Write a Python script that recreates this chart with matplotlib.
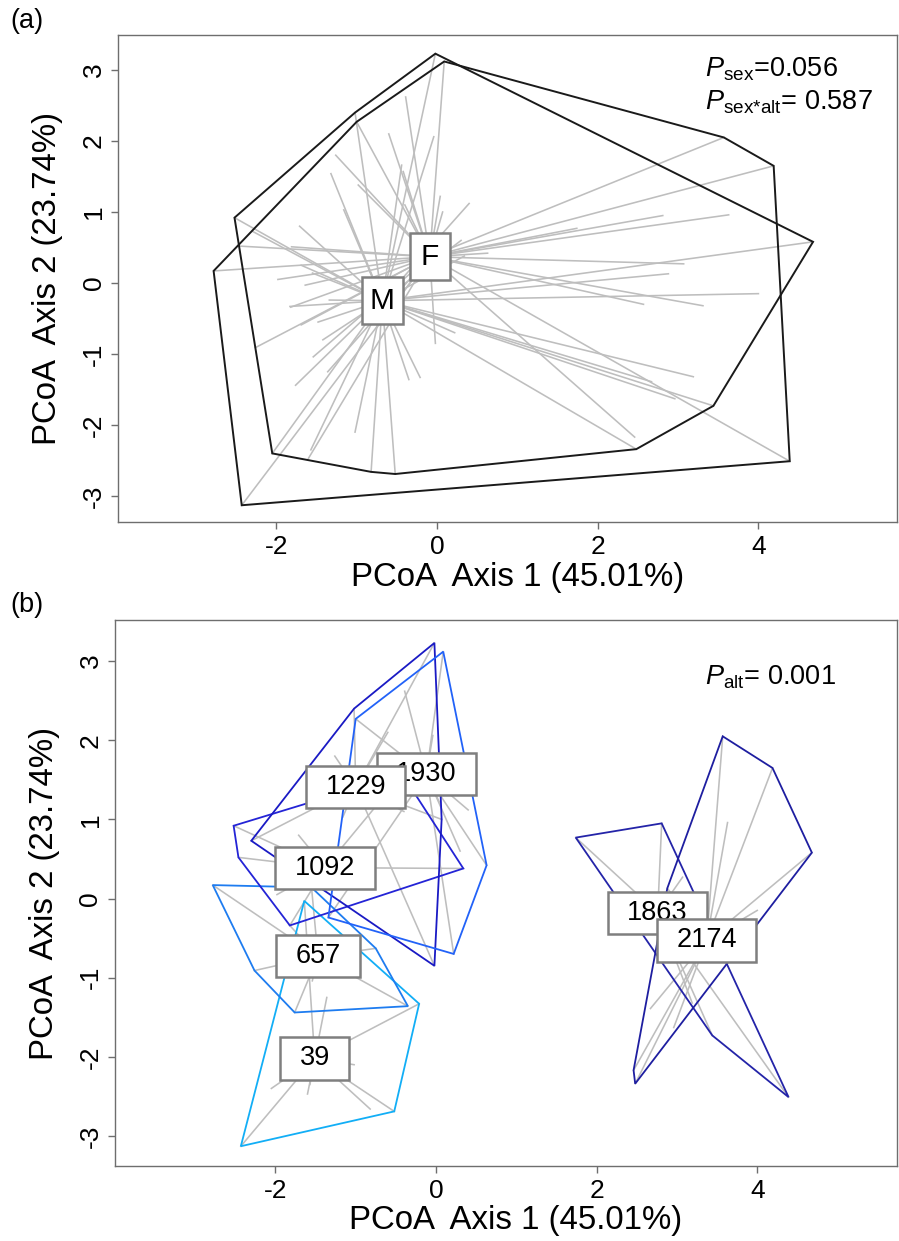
import numpy as np
import matplotlib
matplotlib.use("Agg")
import matplotlib.pyplot as plt
from matplotlib.patches import Polygon
from matplotlib.path import Path

plt.rcParams['font.family'] = ['Liberation Sans', 'DejaVu Sans']
plt.rcParams['mathtext.fontset'] = 'custom'
plt.rcParams['mathtext.rm'] = 'Liberation Sans'
plt.rcParams['mathtext.it'] = 'Liberation Sans:italic'
plt.rcParams['axes.unicode_minus'] = False

# ---------------- data (PCoA scores per altitude group) ----------------
alt39_x = [-1.64, -0.21, -0.52, -2.43, -2.05, -1.60, -0.82, -1.02, -1.36, -1.57]
alt39_y = [-0.03, -1.33, -2.69, -3.13, -2.40, -2.47, -2.66, -2.10, -1.25, -2.35]
alt39_sex = ['F', 'M', 'M', 'F', 'M', 'F', 'M', 'M', 'F', 'M']

alt657_x = [-2.78, -1.55, -0.75, -0.35, -1.76, -2.26, -1.83, -1.69, -1.42, -1.54, -1.48]
alt657_y = [0.17, 0.14, -0.63, -1.36, -1.44, -0.91, -0.33, -0.59, -0.80, -1.04, -0.55]
alt657_sex = ['F', 'M', 'F', 'M', 'M', 'F', 'M', 'F', 'M', 'F', 'M']

alt1092_x = [-2.52, -2.46, -1.82, 0.34, -0.42, -1.71, -1.81, -1.69, -1.98, -0.85]
alt1092_y = [0.92, 0.52, -0.34, 0.38, 1.57, 0.80, 0.51, 0.25, 0.05, 0.20]
alt1092_sex = ['M', 'F', 'F', 'M', 'F', 'M', 'F', 'M', 'F', 'M']

alt1229_x = [-0.02, -1.02, -2.30, -0.02, 0.07, -1.26, -1.32, -0.98, -1.16, -0.40, -0.44, -0.60]
alt1229_y = [3.23, 2.40, 0.73, -0.85, 1.00, 1.80, 1.54, 1.38, 1.03, 1.10, 1.66, 2.10]
alt1229_sex = ['M', 'M', 'M', 'F', 'F', 'F', 'M', 'F', 'M', 'F', 'M', 'F']

alt1930_x = [0.09, -1.00, -1.34, 0.22, 0.63, -0.04, 0.04, 0.40, -0.39, 0.30]
alt1930_y = [3.12, 2.27, -0.24, -0.70, 0.42, 2.06, 1.22, 1.12, 2.62, 0.60]
alt1930_sex = ['F', 'F', 'M', 'M', 'F', 'M', 'F', 'M', 'F', 'M']

alt1863_x = [1.74, 2.81, 4.39, 3.44, 2.57, 3.07, 3.19]
alt1863_y = [0.77, 0.95, -2.51, -1.73, -0.30, 0.27, -1.32]
alt1863_sex = ['F', 'F', 'F', 'M', 'F', 'F', 'M']

alt2174_x = [3.57, 4.19, 4.68, 2.48, 2.46, 2.88, 3.63, 4.00, 3.31, 2.67, 2.96]
alt2174_y = [2.05, 1.65, 0.58, -2.34, -2.17, 0.13, 0.96, -0.15, -0.32, -1.39, -1.63]
alt2174_sex = ['F', 'F', 'M', 'M', 'F', 'M', 'F', 'M', 'F', 'M', 'M']

alt_labels = ['39', '657', '1092', '1229', '1930', '1863', '2174']
alt_center_x = [-1.51, -1.47, -1.38, -1.00, -0.12, 2.76, 3.37]
alt_center_y = [-2.02, -0.73, 0.39, 1.41, 1.57, -0.18, -0.53]
alt_colors = ['#12AEF6', '#1E7CF0', '#2424D6', '#1A1AC4', '#2262F8', '#2424A8', '#1E1EA0']

sex_labels = ['M', 'F']
sex_center_x = [-0.68, -0.09]
sex_center_y = [-0.25, 0.37]

axis1_label = 'PCoA  Axis 1 (45.01%)'
axis2_label = 'PCoA  Axis 2 (23.74%)'
xticks = [-2, 0, 2, 4]
yticks = [-3, -2, -1, 0, 1, 2, 3]

groups = {
    '39': (alt39_x, alt39_y, alt39_sex),
    '657': (alt657_x, alt657_y, alt657_sex),
    '1092': (alt1092_x, alt1092_y, alt1092_sex),
    '1229': (alt1229_x, alt1229_y, alt1229_sex),
    '1930': (alt1930_x, alt1930_y, alt1930_sex),
    '1863': (alt1863_x, alt1863_y, alt1863_sex),
    '2174': (alt2174_x, alt2174_y, alt2174_sex),
}

all_x = np.concatenate([np.asarray(v[0], float) for v in groups.values()])
all_y = np.concatenate([np.asarray(v[1], float) for v in groups.values()])
all_sex = np.concatenate([np.asarray(v[2]) for v in groups.values()])


def convex_hull(x, y):
    pts = sorted(set(zip(x, y)))
    if len(pts) < 3:
        return pts

    def cross(o, a, b):
        return (a[0] - o[0]) * (b[1] - o[1]) - (a[1] - o[1]) * (b[0] - o[0])
    lower, upper = [], []
    for p in pts:
        while len(lower) >= 2 and cross(lower[-2], lower[-1], p) <= 0:
            lower.pop()
        lower.append(p)
    for p in reversed(pts):
        while len(upper) >= 2 and cross(upper[-2], upper[-1], p) <= 0:
            upper.pop()
        upper.append(p)
    return lower[:-1] + upper[:-1]


def make_box(padx, pady):
    def box(x0, y0, width, height, mutation_size):
        px = padx * mutation_size
        py = pady * mutation_size
        xa, ya = x0 - px, y0 - py
        xb, yb = x0 + width + px, y0 + height + py
        return Path([(xa, ya), (xb, ya), (xb, yb), (xa, yb), (xa, ya)], closed=True)
    return box


SPIDER = '#BEBEBE'
LABEL_FS = 19.5
SEX_FS = 21.5
TICK_FS = 19
AXLAB_FS = 23.8
SPINE_C = '#6E6E6E'

fig = plt.figure(figsize=(8.99, 12.41), dpi=100)
W, H = 899.0, 1241.0
ax_a = fig.add_axes([118 / W, 1 - 522 / H, (897 - 118) / W, (522 - 35) / H])
ax_b = fig.add_axes([115 / W, 1 - 1166 / H, (897 - 115) / W, (1166 - 620) / H])


def style_axes(ax, xlim, ylim, xlab_pos):
    ax.set_xlim(*xlim)
    ax.set_ylim(*ylim)
    ax.set_xticks(xticks)
    ax.set_yticks(yticks)
    ax.set_xticklabels([str(t) for t in xticks])
    ax.set_yticklabels([str(t) for t in yticks])
    for s in ax.spines.values():
        s.set_color(SPINE_C)
        s.set_linewidth(1.0)
    ax.tick_params(direction='out', length=5, width=1.0, color=SPINE_C,
                   labelsize=TICK_FS, pad=4)
    plt.setp(ax.get_yticklabels(), rotation=90, va='center')
    ax.set_xlabel(axis1_label, fontsize=AXLAB_FS)
    ax.set_ylabel(axis2_label, fontsize=AXLAB_FS, labelpad=13)
    ax.xaxis.set_label_coords(*xlab_pos)


def box_label(ax, x, y, text, z, fs, padx, pady):
    ax.text(x, y, text, ha='center', va='center', fontsize=fs, zorder=z,
            bbox=dict(boxstyle=make_box(padx, pady), fc='white', ec='#7F7F7F', lw=1.8))


# ---------------- panel (a): sex ----------------
for i, s in enumerate(sex_labels):
    m = all_sex == s
    cx, cy = sex_center_x[i], sex_center_y[i]
    for px, py in zip(all_x[m], all_y[m]):
        ax_a.plot([cx, px], [cy, py], color=SPIDER, lw=1.15, zorder=1)
for i, s in enumerate(sex_labels):
    m = all_sex == s
    hull = convex_hull(all_x[m], all_y[m])
    ax_a.add_patch(Polygon(hull, closed=True, fill=False, edgecolor='#1A1A1A',
                           lw=1.4, zorder=2))
for i, s in enumerate(sex_labels):
    box_label(ax_a, sex_center_x[i], sex_center_y[i], s, 5 + i, SEX_FS,
              0.36 if s == 'F' else 0.26, 0.32)

style_axes(ax_a, (-3.97, 5.725), (-3.366, 3.493), (0.513, -0.082))
ax_a.text(0.754, 0.930, r'$\mathit{P}_{\mathrm{sex}}$=0.056', transform=ax_a.transAxes,
          fontsize=LABEL_FS, ha='left', va='center')
ax_a.text(0.754, 0.862, r'$\mathit{P}_{\mathrm{sex{*}alt}}$= 0.587', transform=ax_a.transAxes,
          fontsize=LABEL_FS, ha='left', va='center')
fig.text(10 / W, 1 - 21 / H, '(a)', fontsize=LABEL_FS, ha='left', va='center')

# ---------------- panel (b): altitude ----------------
for i, lab in enumerate(alt_labels):
    gx, gy, _ = groups[lab]
    cx, cy = alt_center_x[i], alt_center_y[i]
    for px, py in zip(gx, gy):
        ax_b.plot([cx, px], [cy, py], color=SPIDER, lw=1.15, zorder=1)
for i, lab in enumerate(alt_labels):
    gx, gy, _ = groups[lab]
    hull = convex_hull(gx, gy)
    ax_b.add_patch(Polygon(hull, closed=True, fill=False, edgecolor=alt_colors[i],
                           lw=1.3, zorder=2))
label_order = ['1930', '1863', '39', '657', '1092', '1229', '2174']
for k, lab in enumerate(label_order):
    i = alt_labels.index(lab)
    box_label(ax_b, alt_center_x[i], alt_center_y[i], lab, 5 + k, LABEL_FS, 0.72, 0.3)

style_axes(ax_b, (-3.997, 5.74), (-3.38, 3.52), (0.512, -0.071))
ax_b.text(0.754, 0.895, r'$\mathit{P}_{\mathrm{alt}}$= 0.001', transform=ax_b.transAxes,
          fontsize=LABEL_FS, ha='left', va='center')
fig.text(10 / W, 1 - 605 / H, '(b)', fontsize=LABEL_FS, ha='left', va='center')

fig.savefig('out.png', dpi=100)
